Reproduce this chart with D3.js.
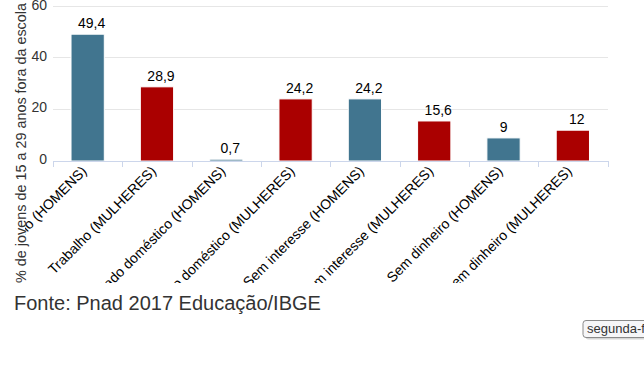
<!DOCTYPE html>
<html><head><meta charset="utf-8">
<script src="https://cdn.jsdelivr.net/npm/d3@7"></script>
<style>body{margin:0;background:#fff;font-family:Arial,"Liberation Sans",sans-serif}</style>
</head><body>
<svg id="c" width="644" height="392"></svg>
<script>
const categories = ["Trabalho (HOMENS)","Trabalho (MULHERES)","Cuidado doméstico (HOMENS)","Cuidado doméstico (MULHERES)","Sem interesse (HOMENS)","Sem interesse (MULHERES)","Sem dinheiro (HOMENS)","Sem dinheiro (MULHERES)"];
const values = [49.4, 28.9, 0.7, 24.2, 24.2, 15.6, 9, 12];
const valueLabels = ["49,4","28,9","0,7","24,2","24,2","15,6","9","12"];
const groups = ["H","M","H","M","H","M","H","M"];
const yTicks = [0, 20, 40, 60];
const colors = {H:"#41758f", M:"#aa0000"};

const svg = d3.select("#c");
const x = d3.scaleBand().domain(categories).range([53, 607.5]).padding(0);
const y = d3.scaleLinear().domain([0, 60]).range([161, 7]);

// gridlines
svg.append("g").selectAll("line").data(yTicks.filter(d=>d>0)).join("line")
  .attr("x1", 53).attr("x2", 608).attr("y1", d=>Math.round(y(d))-0.5).attr("y2", d=>Math.round(y(d))-0.5)
  .attr("stroke", "#e6e6e6");

// y tick labels
svg.append("g").selectAll("text").data(yTicks).join("text")
  .attr("x", 47).attr("y", d=>y(d)+2.5).attr("text-anchor","end")
  .attr("font-size", 14).attr("fill","#333").text(d=>d);

// bars
const bw = x.bandwidth()*0.48;
svg.append("g").selectAll("rect").data(values).join("rect")
  .attr("x", (d,i)=>x(categories[i]) + x.bandwidth()/2 - bw/2)
  .attr("width", bw)
  .attr("y", d=>y(d)).attr("height", d=>y(0)-y(d))
  .attr("fill", (d,i)=>colors[groups[i]])
  .attr("stroke", "#fff").attr("stroke-width", 1);

// value labels
svg.append("g").selectAll("text").data(values).join("text")
  .attr("x", (d,i)=>x(categories[i]) + x.bandwidth()/2 + (valueLabels[i].length>1?4:0))
  .attr("y", d=>y(d)-6).attr("text-anchor","middle")
  .attr("font-size", 14).attr("fill","#000").text((d,i)=>valueLabels[i]);

// x axis
svg.append("line").attr("x1",53).attr("x2",608).attr("y1",161.5).attr("y2",161.5).attr("stroke","#ccd6eb");
const bounds = categories.map(c=>x(c)).concat([x.range()[1]]);
svg.append("g").selectAll("line").data(bounds).join("line")
  .attr("x1", d=>Math.round(d)+0.5).attr("x2", d=>Math.round(d)+0.5).attr("y1",161).attr("y2",167)
  .attr("stroke","#ccd6eb");

// category labels, clipped
svg.append("clipPath").attr("id","lc").append("rect").attr("x",25).attr("y",0).attr("width",619).attr("height",283);
svg.append("g").attr("clip-path","url(#lc)").selectAll("text").data(categories).join("text")
  .attr("transform", c=>`translate(${x(c)+x.bandwidth()/2},${172}) rotate(-45)`)
  .attr("text-anchor","end").attr("font-size",14).attr("fill","#000").text(c=>c);

// y axis title
svg.append("text").attr("transform","translate(26,283) rotate(-90)")
  .attr("text-anchor","start").attr("font-size",14.4).attr("fill","#333")
  .text("% de jovens de 15 a 29 anos fora da escola");

// source
svg.append("text").attr("x",14).attr("y",310).attr("font-size",20).attr("fill","#333")
  .text("Fonte: Pnad 2017 Educação/IBGE");

// tooltip artifact
const tt = svg.append("g");
tt.append("rect").attr("x",585.5).attr("y",322.5).attr("width",70).attr("height",17).attr("rx",3)
  .attr("fill","#888").attr("opacity",0.35);
tt.append("rect").attr("x",583).attr("y",320.5).attr("width",70).attr("height",17).attr("rx",3)
  .attr("fill","#f6f6f8").attr("stroke","#8a8a8a");
tt.append("text").attr("x",587).attr("y",333).attr("font-size",13).attr("fill","#333").text("segunda-feira");
</script>
</body></html>
